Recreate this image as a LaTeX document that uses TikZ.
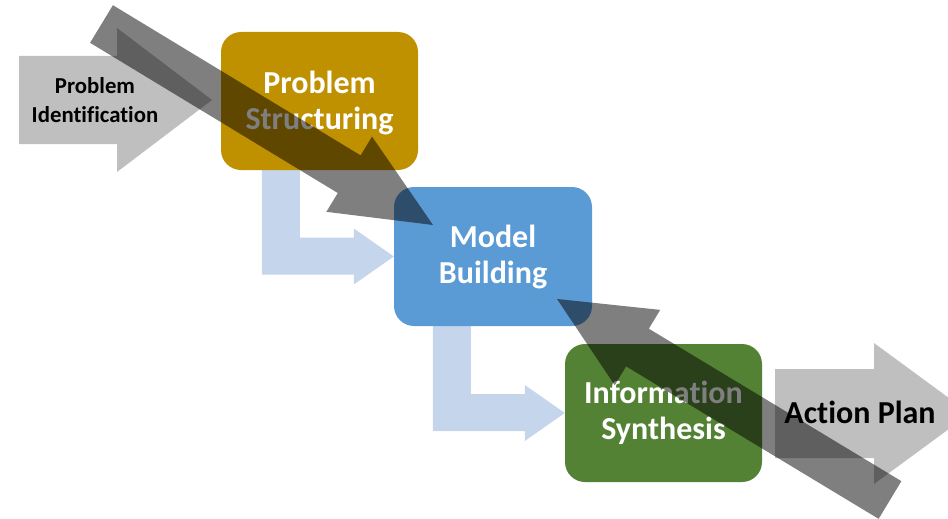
\documentclass[tikz,border=0pt]{standalone}
\usepackage{fontspec}
\setmainfont[Ligatures=NoCommon]{Carlito}
\definecolor{stagegold}{HTML}{BF9000}
\definecolor{stageblue}{HTML}{5B9BD5}
\definecolor{stagegreen}{HTML}{548235}
\definecolor{arrowgrey}{HTML}{BFBFBF}
\definecolor{paleblue}{HTML}{C5D5EB}
\pgfdeclarelayer{background}
\pgfsetlayers{background,main}
\tikzset{
  stagebox/.style={rectangle, rounded corners=20pt, inner sep=0pt,
    minimum width=197pt, minimum height=138pt},
  stagelabel/.style={text=white, align=center, inner sep=0pt,
    font=\bfseries\fontsize{32}{36}\selectfont},
  sidelabel/.style={text=black, align=center, inner sep=0pt},
  greyarrow/.style={fill=arrowgrey},
  loopback/.style={fill=black, fill opacity=0.5},
  pics/bentarrow/.style={code={
    \fill[paleblue] (-132,-92) -- (-94,-92) -- (-94,-19) -- (-40,-19)
      -- (-40,-28) -- (0,0) -- (-40,28) -- (-40,18) -- (-132,18) -- cycle;}},
}
\begin{document}
\begin{tikzpicture}[x=1pt,y=-1pt]
\useasboundingbox (0,0) rectangle (948,519);

% stages
\node[stagebox, fill=stagegold]  (structuring) at (319.5,101) {};
\node[stagebox, fill=stageblue, minimum width=198pt, minimum height=139pt]
      (building) at (493,256.5) {};
\node[stagebox, fill=stagegreen] (synthesis) at (663.5,413) {};
\node[stagelabel] (structuringtext) at ([yshift=-1.5pt]structuring.center) {Problem\\Structuring};
\node[stagelabel] (buildingtext) at ([yshift=-0.5pt]building.center) {Model\\Building};
\node[stagelabel] (synthesistext) at ([yshift=0pt]synthesis.center) {Information\\Synthesis};

% entry and exit block arrows, plus the bent hand-over arrows
\begin{pgfonlayer}{background}
  \fill[greyarrow] (19,56) -- (117,56) -- (117,28) -- (212,100) -- (117,172)
    -- (117,144) -- (19,144) -- cycle;
  \fill[greyarrow] (775,369) -- (874,369) -- (874,343) -- (970,413.5) -- (874,484)
    -- (874,458) -- (775,458) -- cycle;
  \pic at (building.west) {bentarrow};
  \pic at (synthesis.west) {bentarrow};
\end{pgfonlayer}

\node[sidelabel, font=\bfseries\fontsize{22.8}{29}\selectfont] (identification)
  at (95,100) {Problem\\Identification};
\node[sidelabel, anchor=base, font=\bfseries\fontsize{32}{36}\selectfont] (plan)
  at (860,423) {Action Plan};

% translucent feedback arrows laid over everything
\begin{scope}[shift={(101.5,24)}, rotate=-31.23]
  \fill[loopback] (0,-22) -- (289.7,-22) -- (289.7,-44) -- (387.7,0)
    -- (289.7,44) -- (289.7,22) -- (0,22) -- cycle;
\end{scope}
\begin{scope}[shift={(890,500)}, rotate=148.88]
  \fill[loopback] (0,-22) -- (295,-22) -- (295,-44) -- (389,0)
    -- (295,44) -- (295,22) -- (0,22) -- cycle;
\end{scope}
\end{tikzpicture}
\end{document}
